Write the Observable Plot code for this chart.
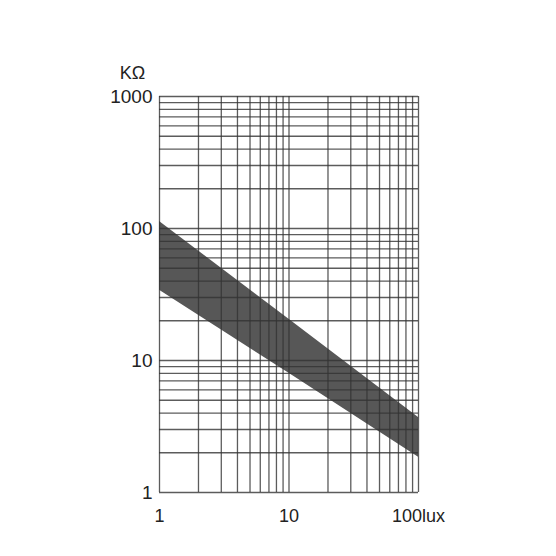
<!DOCTYPE html>
<html>
<head>
<meta charset="utf-8">
<script src="https://cdn.jsdelivr.net/npm/d3@7"></script>
<script src="https://cdn.jsdelivr.net/npm/@observablehq/plot@0.6"></script>
<style>
  html, body { margin: 0; padding: 0; background: #fff; }
  #chart { width: 556px; height: 556px; }
</style>
</head>
<body>
<div id="chart"></div>
<script>
// Illuminance (lux) vs resistance (KΩ) band
const lux = [1, 10, 100];
const upperKOhm = [113, 20.5, 3.7];
const lowerKOhm = [34, 8, 1.85];

const xGrid = [1, 2, 3, 4, 5, 6, 7, 8, 9, 10, 20, 30, 40, 50, 60, 70, 80, 90, 100];
const yGrid = [1, 2, 3, 4, 5, 6, 7, 8, 9, 10, 20, 30, 40, 50, 60, 70, 80, 90,
               100, 200, 300, 400, 500, 600, 700, 800, 900, 1000];
const xTickLabels = [1, 10, 100];
const yTickLabels = [1, 10, 100, 1000];
const yUnit = "KΩ";
const xUnit = "lux";

const band = lux.map((d, i) => ({lux: d, upper: upperKOhm[i], lower: lowerKOhm[i]}));

const chart = Plot.plot({
  width: 556,
  height: 556,
  marginLeft: 159,
  marginRight: 138,
  marginTop: 96,
  marginBottom: 64,
  style: {fontFamily: "Liberation Sans, Arial, sans-serif", fontSize: "19px", color: "#222", background: "#fff"},
  x: {type: "log", domain: [1, 100]},
  y: {type: "log", domain: [1, 1000]},
  marks: [
    Plot.areaY(band, {x: "lux", y1: "lower", y2: "upper", fill: "#575757"}),
    Plot.ruleX(xGrid, {stroke: "#333", strokeWidth: 1.3, strokeOpacity: 0.8}),
    Plot.ruleY(yGrid, {stroke: "#333", strokeWidth: 1.3, strokeOpacity: 0.8}),
    Plot.axisX(xTickLabels, {
      tickSize: 0, tickPadding: 17, fontSize: 18,
      tickFormat: d => d === 100 ? d + xUnit : String(d), label: null
    }),
    Plot.axisY(yTickLabels, {
      tickSize: 0, tickPadding: 7, fontSize: 19,
      tickFormat: d => String(d), label: null
    }),
    Plot.text([yUnit], {frameAnchor: "top-left", dx: -27, dy: -30, text: d => d, fontSize: 18, textAnchor: "middle", fill: "#222"})
  ]
});
document.getElementById("chart").appendChild(chart);
</script>
</body>
</html>
